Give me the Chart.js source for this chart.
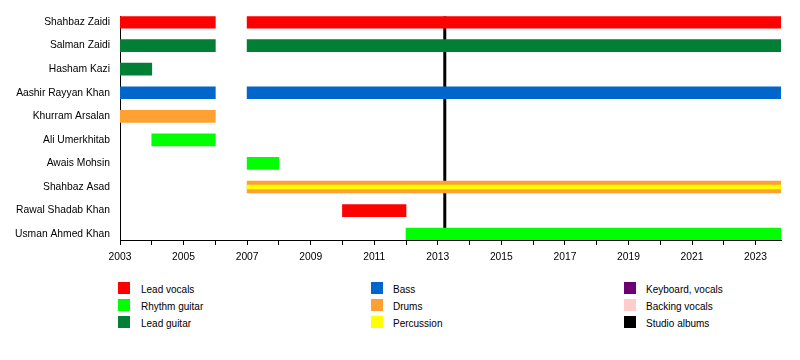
<!DOCTYPE html>
<html>
<head>
<meta charset="utf-8">
<script src="https://cdn.jsdelivr.net/npm/chart.js@4/dist/chart.umd.min.js"></script>
<style>
  html, body { margin: 0; padding: 0; background: #fff; }
  #wrap { position: relative; width: 800px; height: 360px; overflow: hidden; font-family: "Liberation Sans", Arial, sans-serif; }
  #c { position: absolute; left: 0; top: 0; }
  .lg { position: absolute; font-size: 10px; color: #000; line-height: 12px; white-space: nowrap; }
  .sw { position: absolute; width: 12px; height: 12px; }
</style>
</head>
<body>
<div id="wrap">
  <canvas id="c" width="800" height="270"></canvas>
  <div id="legend"></div>
</div>
<script>
// ---- data ----
const END = 2023.8;
const members = ["Shahbaz Zaidi", "Salman Zaidi", "Hasham Kazi", "Aashir Rayyan Khan", "Khurram Arsalan",
                 "Ali Umerkhitab", "Awais Mohsin", "Shahbaz Asad", "Rawal Shadab Khan", "Usman Ahmed Khan"];
const roles = ["Lead vocals", "Rhythm guitar", "Lead guitar", "Bass", "Drums", "Percussion",
               "Keyboard, vocals", "Backing vocals", "Studio albums"];
const roleColors = ["#ff0000", "#00ff00", "#007f35", "#0066cc", "#ffa033", "#ffff00",
                    "#6e0076", "#ffcccc", "#000000"];
// [memberIndex, start, end]
const leadVocals   = [[0, 2003, 2006], [0, 2007, END], [8, 2010, 2012]];
const rhythmGuitar = [[5, 2004, 2006], [6, 2007, 2008], [9, 2012, END]];
const leadGuitar   = [[1, 2003, 2006], [1, 2007, END], [2, 2003, 2004]];
const bass         = [[3, 2003, 2006], [3, 2007, END]];
const drums        = [[4, 2003, 2006], [7, 2007, END]];
const percussion   = [[7, 2007, END]];
const keyboardVocals = [];
const backingVocals  = [];
const studioAlbums = [2013.22];
const yearTicks = [2003,2004,2005,2006,2007,2008,2009,2010,2011,2012,2013,2014,2015,2016,2017,2018,2019,2020,2021,2022,2023];

// ---- build ----
const toBars = arr => arr.map(r => ({ y: r[0], x: [r[1], r[2]] }));
const seriesByRole = [leadVocals, rhythmGuitar, leadGuitar, bass, drums, percussion, keyboardVocals, backingVocals];

const datasets = seriesByRole.map((s, i) => ({
  type: 'bar',
  label: roles[i],
  data: toBars(s),
  backgroundColor: roleColors[i],
  borderWidth: 0,
  barThickness: roles[i] === "Percussion" ? 4 : 12,
  grouped: false,
  order: roles[i] === "Percussion" ? 0 : 1
}));
studioAlbums.forEach(x => {
  datasets.push({
    type: 'line',
    label: roles[8],
    data: [{ x: x, y: -0.25 }, { x: x, y: 9.25 }],
    borderColor: roleColors[8],
    borderWidth: 3,
    pointRadius: 0,
    fill: false,
    order: 10
  });
});

const FONT = { family: '"Liberation Sans", Arial, sans-serif', size: 10.3 };

new Chart(document.getElementById('c'), {
  type: 'bar',
  data: { datasets },
  options: {
    responsive: false,
    animation: false,
    indexAxis: 'y',
    layout: { padding: { left: 0, right: 19, top: 15, bottom: 0 } },
    plugins: { legend: { display: false }, tooltip: { enabled: false } },
    scales: {
      x: {
        type: 'linear',
        min: 2003,
        max: END,
        offset: false,
        afterBuildTicks: s => { s.ticks = yearTicks.map(v => ({ value: v })); },
        afterFit: s => { s.height = 30; },
        ticks: {
          color: '#000',
          font: FONT,
          padding: 6,
          maxRotation: 0,
          autoSkip: false,
          callback: v => ((v - 2003) % 2 === 0 ? String(v) : '')
        },
        grid: { offset: false, drawOnChartArea: false, drawTicks: true, tickLength: 5, tickColor: '#000' },
        border: { display: true, color: '#000', width: 1 }
      },
      y: {
        type: 'linear',
        reverse: true,
        min: -0.25,
        max: 9.25,
        offset: false,
        afterBuildTicks: s => { s.ticks = members.map((m, i) => ({ value: i })); },
        afterFit: s => { s.width = 120; },
        ticks: {
          color: '#000',
          font: FONT,
          padding: 10,
          autoSkip: false,
          callback: v => members[v] ?? ''
        },
        grid: { offset: false, drawOnChartArea: false, drawTicks: false },
        border: { display: true, color: '#000', width: 1 }
      }
    }
  }
});

// ---- legend (HTML text) ----
const legend = document.getElementById('legend');
const colSq = [118, 371, 624];
const colTx = [141, 393, 646];
const rowTop = [282, 299, 316];
roles.forEach((r, i) => {
  const col = Math.floor(i / 3), row = i % 3;
  const sw = document.createElement('div');
  sw.className = 'sw';
  sw.style.left = colSq[col] + 'px';
  sw.style.top = rowTop[row] + 'px';
  sw.style.background = roleColors[i];
  legend.appendChild(sw);
  const t = document.createElement('div');
  t.className = 'lg';
  t.style.left = colTx[col] + 'px';
  t.style.top = (rowTop[row] + 2) + 'px';
  t.textContent = r;
  legend.appendChild(t);
});
</script>
</body>
</html>
